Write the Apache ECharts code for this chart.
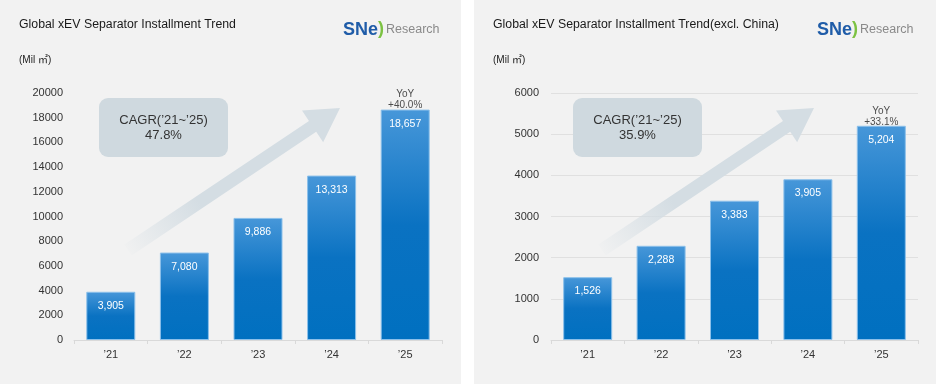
<!DOCTYPE html>
<html>
<head>
<meta charset="utf-8">
<script src="https://cdn.jsdelivr.net/npm/echarts@6/dist/echarts.min.js"></script>
<style>
html,body{margin:0;padding:0;background:#fff;}
#c{width:936px;height:384px;}
</style>
</head>
<body>
<div id="c"></div>
<script>
// ---- data ----
const years = ['\u201921', '\u201922', '\u201923', '\u201924', '\u201925'];
const globalValues = [3905, 7080, 9886, 13313, 18657];
const exChinaValues = [1526, 2288, 3383, 3905, 5204];
const globalAxis = { min: 0, max: 20000, interval: 2000 };
const exChinaAxis = { min: 0, max: 6000, interval: 1000 };
const titles = ['Global xEV Separator Installment Trend', 'Global xEV Separator Installment Trend(excl. China)'];
const unitLabel = '(Mil \u33A1)';
const cagrLabels = ['47.8%', '35.9%'];
const yoyLabels = ['+40.0%', '+33.1%'];

const FONT = '"Liberation Sans", Arial, "Noto Sans CJK KR", sans-serif';
const chart = echarts.init(document.getElementById('c'), null, { renderer: 'canvas' });

const fmt = v => Number(v).toLocaleString('en-US');

function barSeries(idx, values) {
  return {
    type: 'bar', xAxisIndex: idx, yAxisIndex: idx,
    data: values, barWidth: 49, z: 3,
    itemStyle: {
      color: { type: 'linear', x: 0, y: 0, x2: 0, y2: 1, colorStops: [
        { offset: 0, color: '#4797d9' }, { offset: 0.5, color: '#0a72c2' }, { offset: 1, color: '#0070c0' } ] },
      borderColor: '#8cc0ea', borderWidth: 1
    },
    label: { show: true, position: 'insideTop', distance: 9, color: '#ffffff', fontSize: 10.5, fontFamily: FONT,
      formatter: p => fmt(p.value) }
  };
}
function yoySeries(idx, values, txt) {
  const d = values.map((v, i) => i === values.length - 1 ? v : '-');
  return {
    type: 'scatter', xAxisIndex: idx, yAxisIndex: idx, data: d, symbolSize: 1, z: 4,
    itemStyle: { color: 'transparent' },
    label: { show: true, position: 'top', distance: -2, color: '#222', fontSize: 10, lineHeight: 11,
      fontFamily: FONT, formatter: 'YoY\n' + txt }
  };
}

function xAxis(idx) {
  return {
    gridIndex: idx, type: 'category', data: years,
    axisLine: { lineStyle: { color: '#d9d9d9', width: 1 } },
    axisTick: { show: true, length: 4, lineStyle: { color: '#d9d9d9' } },
    axisLabel: { color: '#333', fontSize: 11, margin: 9, fontFamily: FONT }
  };
}
function yAxis(idx, ax, grid) {
  return {
    gridIndex: idx, type: 'value', min: ax.min, max: ax.max, interval: ax.interval,
    axisLine: { show: false }, axisTick: { show: false },
    splitLine: { show: grid, lineStyle: { color: '#e0e0e0', width: 1 } },
    axisLabel: { color: '#333', fontSize: 11, margin: grid ? 12 : 11, fontFamily: FONT, formatter: v => String(v) }
  };
}

function arrowPoints(tail, tip, shaftW, headW, headL) {
  const dx = tip[0] - tail[0], dy = tip[1] - tail[1];
  const len = Math.sqrt(dx * dx + dy * dy);
  const ux = dx / len, uy = dy / len, nx = -uy, ny = ux;
  const bx = tip[0] - ux * headL, by = tip[1] - uy * headL;
  const s = shaftW / 2, h = headW / 2;
  return [
    [tail[0] + nx * s, tail[1] + ny * s],
    [bx + nx * s, by + ny * s],
    [bx + nx * h, by + ny * h],
    [tip[0], tip[1]],
    [bx - nx * h, by - ny * h],
    [bx - nx * s, by - ny * s],
    [tail[0] - nx * s, tail[1] - ny * s]
  ];
}

function panelGraphics(off, i) {
  const arrowFill = { type: 'linear', x: 0, y: 1, x2: 1, y2: 0, colorStops: [
    { offset: 0, color: 'rgba(212,221,227,0)' }, { offset: 0.35, color: 'rgba(212,221,227,1)' }, { offset: 1, color: 'rgba(212,221,227,1)' } ] };
  return [
    { type: 'rect', z: -100, shape: { x: off, y: 0, width: i === 0 ? 461 : 462, height: 384 }, style: { fill: '#f2f2f2' } },
    { type: 'text', z: 10, x: off + 19, y: 25, style: { text: titles[i], fill: '#1a1a1a', font: '12.3px ' + FONT, textVerticalAlign: 'middle' } },
    { type: 'text', z: 10, x: off + 19, y: 60, style: { text: unitLabel, fill: '#1a1a1a', font: '10px ' + FONT, textVerticalAlign: 'middle' } },
    { type: 'text', z: 10, x: off + 343, y: 30, style: { text: 'SNe', fill: '#1f5ca8', font: 'bold 18px ' + FONT, textVerticalAlign: 'middle' } },
    { type: 'text', z: 10, x: off + 378, y: 29, style: { text: ')', fill: '#7cc242', font: 'bold 18px ' + FONT, textVerticalAlign: 'middle' } },
    { type: 'text', z: 10, x: off + 386, y: 30, style: { text: 'Research', fill: '#8a8a8a', font: '12.5px ' + FONT, textVerticalAlign: 'middle' } },
    { type: 'polygon', z: 5, shape: { points: arrowPoints([off + 128, 250], [off + 340, 108], 13, 38, 33) }, style: { fill: arrowFill } },
    { type: 'rect', z: 6, shape: { x: off + 99, y: 98, width: 129, height: 59, r: 9 }, style: { fill: '#cfd9df' } },
    { type: 'text', z: 7, x: off + 163.5, y: 127.5, style: { text: 'CAGR(\u201921~\u201925)\n' + cagrLabels[i], fill: '#333', font: '13px ' + FONT, lineHeight: 15, textAlign: 'center', textVerticalAlign: 'middle' } }
  ];
}

const option = {
  backgroundColor: '#ffffff',
  animation: false,
  grid: [
    { left: 74, right: 494, top: 93, bottom: 44 },
    { left: 551, right: 18, top: 93, bottom: 44 }
  ],
  xAxis: [xAxis(0), xAxis(1)],
  yAxis: [yAxis(0, globalAxis, false), yAxis(1, exChinaAxis, true)],
  series: [
    barSeries(0, globalValues), yoySeries(0, globalValues, yoyLabels[0]),
    barSeries(1, exChinaValues), yoySeries(1, exChinaValues, yoyLabels[1])
  ],
  graphic: { elements: [].concat(panelGraphics(0, 0), panelGraphics(474, 1)) }
};
chart.setOption(option);
</script>
</body>
</html>
